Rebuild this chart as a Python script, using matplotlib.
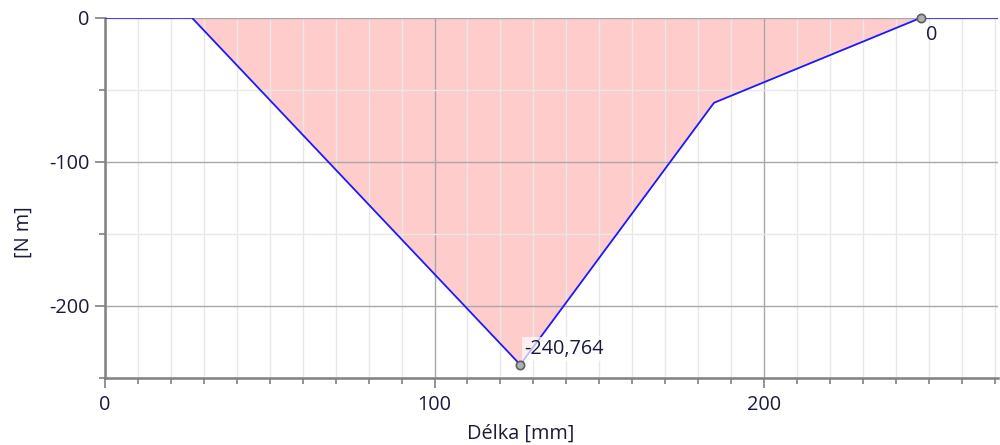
import matplotlib
matplotlib.use("Agg")
import matplotlib.pyplot as plt
from matplotlib.ticker import MultipleLocator, FuncFormatter

# Data
x_mm = [0, 26.4, 126.0, 184.8, 247.6, 271]
moment = [0, 0, -240.764, -59, 0, 0]
min_point = (126.0, -240.764)
zero_point = (247.6, 0)
min_label = "-240,764"
zero_label = "0"

plt.rcParams['font.family'] = ['Open Sans', 'DejaVu Sans']
FS = 14.3

fig = plt.figure(figsize=(10, 4.45), dpi=100)
ax = fig.add_axes([0.105, 0.1506, 0.893, 0.8094])

ax.fill_between(x_mm, moment, 0, color='#ffcccc', linewidth=0, zorder=1)
ax.plot(x_mm, moment, color='#1a1aff', linewidth=1.3, zorder=3)

ax.set_xlim(0, 271)
ax.set_ylim(-250, 0)

ax.xaxis.set_major_locator(MultipleLocator(100))
ax.xaxis.set_minor_locator(MultipleLocator(10))
ax.yaxis.set_major_locator(MultipleLocator(100))
ax.yaxis.set_minor_locator(MultipleLocator(50))

ax.grid(which='major', color='#a8a8a8', linewidth=1.0, zorder=2)
ax.grid(which='minor', color='#e8e8e8', linewidth=1.0, zorder=0)

for s in ['top', 'right']:
    ax.spines[s].set_visible(False)
for s in ['left', 'bottom']:
    ax.spines[s].set_color('#808080')
    ax.spines[s].set_linewidth(1.8)

ax.tick_params(which='major', length=7, width=1.2, color='#808080', labelsize=FS,
               labelcolor='#1a1a3a')
ax.tick_params(which='minor', length=4, width=1.2, color='#808080')
ax.tick_params(axis='x', pad=5)
ax.tick_params(axis='y', pad=4)

ax.xaxis.set_major_formatter(FuncFormatter(lambda v, p: f"{int(v)}"))
ax.yaxis.set_major_formatter(FuncFormatter(lambda v, p: f"{int(v)}"))

ax.set_xlabel("Délka [mm]", fontsize=FS, color='#1a1a3a')
ax.set_ylabel("[N m]", fontsize=FS, color='#1a1a3a')
ax.xaxis.set_label_coords(0.466, -0.128)
ax.yaxis.set_label_coords(-0.080, 0.405)

for pt in [min_point, zero_point]:
    ax.plot(pt[0], pt[1], 'o', markersize=6, markerfacecolor='#b0b0b0',
            markeredgecolor='#606060', markeredgewidth=1.2, zorder=5, clip_on=False)

ax.annotate(min_label, xy=min_point, xytext=(3, 4), textcoords='offset points',
            fontsize=FS, color='#1a1a3a', ha='left', va='bottom',
            bbox=dict(boxstyle='square,pad=0.1', facecolor='white', edgecolor='none', alpha=0.7),
            zorder=6)
ax.annotate(zero_label, xy=zero_point, xytext=(3.5, -5), textcoords='offset points',
            fontsize=FS, color='#1a1a3a', ha='left', va='top', zorder=6)

fig.savefig("out.png", dpi=100)
